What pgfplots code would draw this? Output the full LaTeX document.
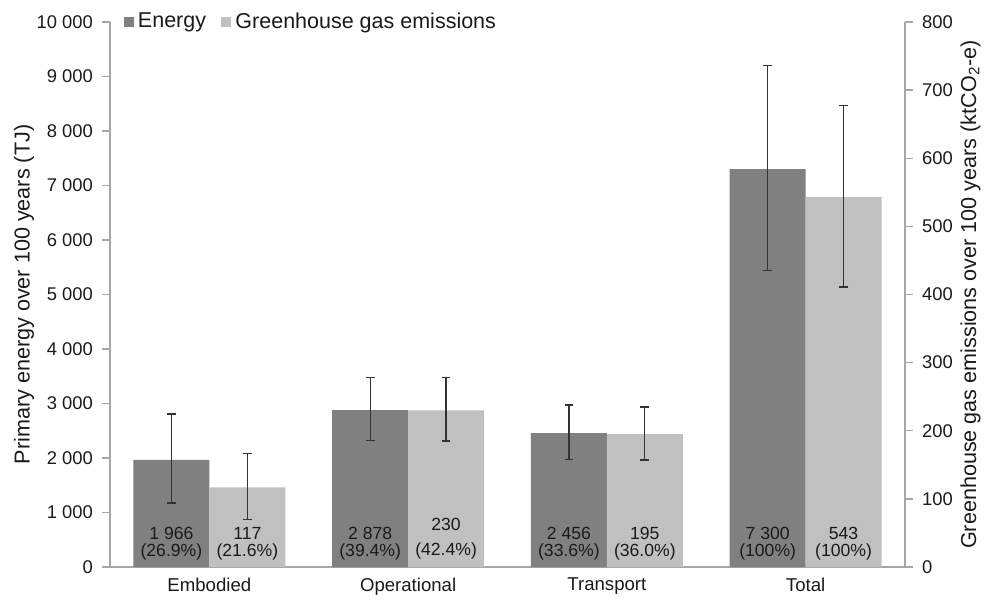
\documentclass[border=0pt]{standalone}
\usepackage{fontspec}
\setmainfont{Liberation Sans}
\usepackage{pgfplots}
\pgfplotsset{compat=1.18}
\definecolor{darkbar}{HTML}{808080}
\definecolor{lightbar}{HTML}{C0C0C0}
\definecolor{axgray}{HTML}{A6A6A6}
\definecolor{txt}{HTML}{1A1A1A}
\definecolor{errc}{HTML}{333333}

\pgfplotsset{
 common/.style={
  scale only axis, width=397.5pt, height=272.5pt,
  xmin=-0.5, xmax=3.5, ymin=0,
  axis line style={axgray, line width=0.7pt},
  tick align=outside, major tick length=4pt,
  ticklabel style={font=\fontsize{9.2}{10}\selectfont, text=txt},
  label style={font=\fontsize{10.8}{12}\selectfont, text=txt, inner sep=0pt},
  /pgf/number format/assume math mode=true,
  /pgf/number format/1000 sep={\ },
  scaled y ticks=false,
  ybar, bar width=0.382,
  error bars/y dir=both, error bars/y explicit,
  error bars/error bar style={color=errc, line width=0.6pt},
  error bars/error mark options={rotate=90, mark size=2.2pt, line width=0.6pt, color=errc},
 }
}

\begin{document}
\begin{tikzpicture}
\begin{axis}[common,
  ymax=10000, ytick={0,1000,...,10000},
  axis x line*=bottom, axis y line*=left,
  y tick style={axgray, line width=0.7pt},
  y tick label style={xshift=-1pt},
  xtick={0,1,2,3},
  xticklabels={Embodied,Operational,Transport,Total},
  x tick style={draw=none},
  x tick label style={font=\fontsize{9.3}{10}\selectfont, text=txt, yshift=2pt},
  extra x ticks={-0.5,0.5,1.5,2.5,3.5},
  extra x tick labels={},
  extra x tick style={tick style={draw=axgray, line width=0.7pt}},
  ylabel={Primary energy over 100 years (TJ)},
  ylabel style={yshift=-2.25pt},
]
\addplot[fill=darkbar, draw=none, bar shift=-0.191] coordinates {
  (0,1966) += (0,841) -= (0,792)
  (1,2878) += (0,603) -= (0,560)
  (2,2456) += (0,516) -= (0,480)
  (3,7300) += (0,1898) -= (0,1856)
};
\end{axis}
\begin{axis}[common,
  ymax=800, ytick={0,100,...,800},
  axis y line*=right, axis x line=none,
  y tick style={axgray, line width=0.7pt},
  y tick label style={xshift=1pt},
  ylabel={Greenhouse gas emissions over 100 years (ktCO\textsubscript{2}-e)},
  ylabel style={yshift=-0.25pt},
  legend columns=2,
  legend style={draw=none, fill=none, at={(0.009,1)}, anchor=west,
    font=\fontsize{10.75}{12}\selectfont, text=txt,
    /tikz/every even column/.append style={column sep=5.5pt}},
  legend image code/.code={\fill[#1] (0pt,-2.6pt) rectangle (5.2pt,2.6pt);},
]
\addlegendimage{fill=darkbar, draw=none}
\addlegendentry{Energy}
\addplot[fill=lightbar, draw=none, bar shift=0.191] coordinates {
  (0,117) += (0,50) -= (0,47)
  (1,230) += (0,48) -= (0,45)
  (2,195) += (0,40) -= (0,38)
  (3,543) += (0,135) -= (0,132)
};
\addlegendentry{Greenhouse gas emissions}
\begin{scope}[every node/.style={font=\fontsize{8.8}{9}\selectfont, text=txt}]
\node at (axis cs:-0.191,49.9) {1 966};
\node at (axis cs:-0.191,22) {(26.9\%)};
\node at (axis cs:0.191,49.9) {117};
\node at (axis cs:0.191,22) {(21.6\%)};
\node at (axis cs:0.809,49.9) {2 878};
\node at (axis cs:0.809,22) {(39.4\%)};
\node at (axis cs:1.191,63.1) {230};
\node at (axis cs:1.191,23.5) {(42.4\%)};
\node at (axis cs:1.809,49.9) {2 456};
\node at (axis cs:1.809,22) {(33.6\%)};
\node at (axis cs:2.191,49.9) {195};
\node at (axis cs:2.191,22) {(36.0\%)};
\node at (axis cs:2.809,49.9) {7 300};
\node at (axis cs:2.809,22) {(100\%)};
\node at (axis cs:3.191,49.9) {543};
\node at (axis cs:3.191,22) {(100\%)};
\end{scope}
\end{axis}
\path ([yshift=11pt]current axis.north);
\path ([yshift=-15.5pt]current axis.south);
\path ([xshift=-55pt]current axis.west);
\path ([xshift=41pt]current axis.east);
\end{tikzpicture}
\end{document}
